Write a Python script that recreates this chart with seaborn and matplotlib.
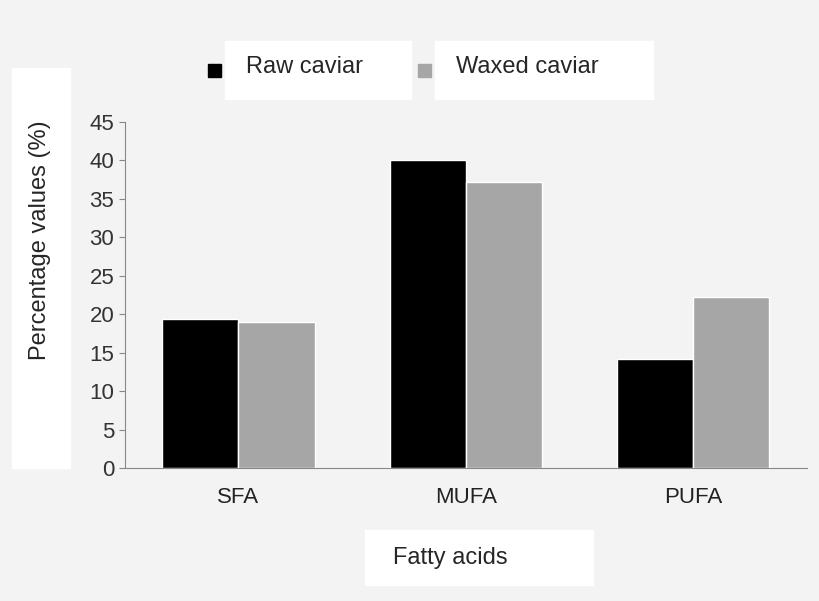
import matplotlib
matplotlib.use("Agg")
import matplotlib.pyplot as plt
import seaborn as sns
import pandas as pd
from matplotlib.patches import Rectangle

categories = ["SFA", "MUFA", "PUFA"]
raw_caviar = [19.4, 40.0, 14.2]
waxed_caviar = [19.0, 37.2, 22.2]
series_names = ["Raw caviar", "Waxed caviar"]
yticks = [0, 5, 10, 15, 20, 25, 30, 35, 40, 45]

df = pd.DataFrame({
    "cat": categories * 2,
    "val": raw_caviar + waxed_caviar,
    "series": [series_names[0]] * 3 + [series_names[1]] * 3,
})

sns.set_style("white")
plt.rcParams["font.family"] = ["Liberation Sans", "DejaVu Sans"]
bg = "#f3f3f3"
fig = plt.figure(figsize=(8.2, 6.01), dpi=100, facecolor=bg)
ax = fig.add_axes([0.152, 0.2213, 0.832, 0.5757])
ax.set_facecolor(bg)
sns.barplot(data=df, x="cat", y="val", hue="series", palette=["#000000", "#a6a6a6"],
            width=0.67, ax=ax, saturation=1, legend=False)
ax.set_xlim(-0.5, 2.5)
ax.set_ylim(0, 45)
ax.set_yticks(yticks)
ax.set_yticklabels([str(t) for t in yticks], fontsize=16, color="#333333")
ax.tick_params(axis="x", labelsize=16, length=0, pad=14, colors="#222222")
ax.tick_params(axis="y", length=4, direction="out", left=True, color="#888888")
for s in ["top", "right"]:
    ax.spines[s].set_visible(False)
for s in ["left", "bottom"]:
    ax.spines[s].set_color("#888888")
ax.set_xlabel("")
ax.set_ylabel("")

# White label boxes
fig.patches.append(Rectangle((12/820, 1-468/601), 58/820, 400/601, transform=fig.transFigure, color="white", zorder=0))
fig.text(40/820, 1-240/601, "Percentage values (%)", rotation=90, ha="center", va="center", fontsize=17)
fig.patches.append(Rectangle((365/820, 1-585/601), 228/820, 55/601, transform=fig.transFigure, color="white", zorder=0))
fig.text(450/820, 1-558/601, "Fatty acids", ha="center", va="center", fontsize=17)
fig.patches.append(Rectangle((225/820, 1-99/601), 186/820, 58/601, transform=fig.transFigure, color="white", zorder=0))
fig.patches.append(Rectangle((435/820, 1-99/601), 218/820, 58/601, transform=fig.transFigure, color="white", zorder=0))
fig.patches.append(Rectangle((208/820, 1-77/601), 13/820, 13/601, transform=fig.transFigure, color="#000000"))
fig.patches.append(Rectangle((418/820, 1-77/601), 13/820, 13/601, transform=fig.transFigure, color="#a6a6a6"))
fig.text(246/820, 1-67/601, series_names[0], ha="left", va="center", fontsize=17)
fig.text(456/820, 1-67/601, series_names[1], ha="left", va="center", fontsize=17)

fig.savefig("out.png", dpi=100, facecolor=bg)
